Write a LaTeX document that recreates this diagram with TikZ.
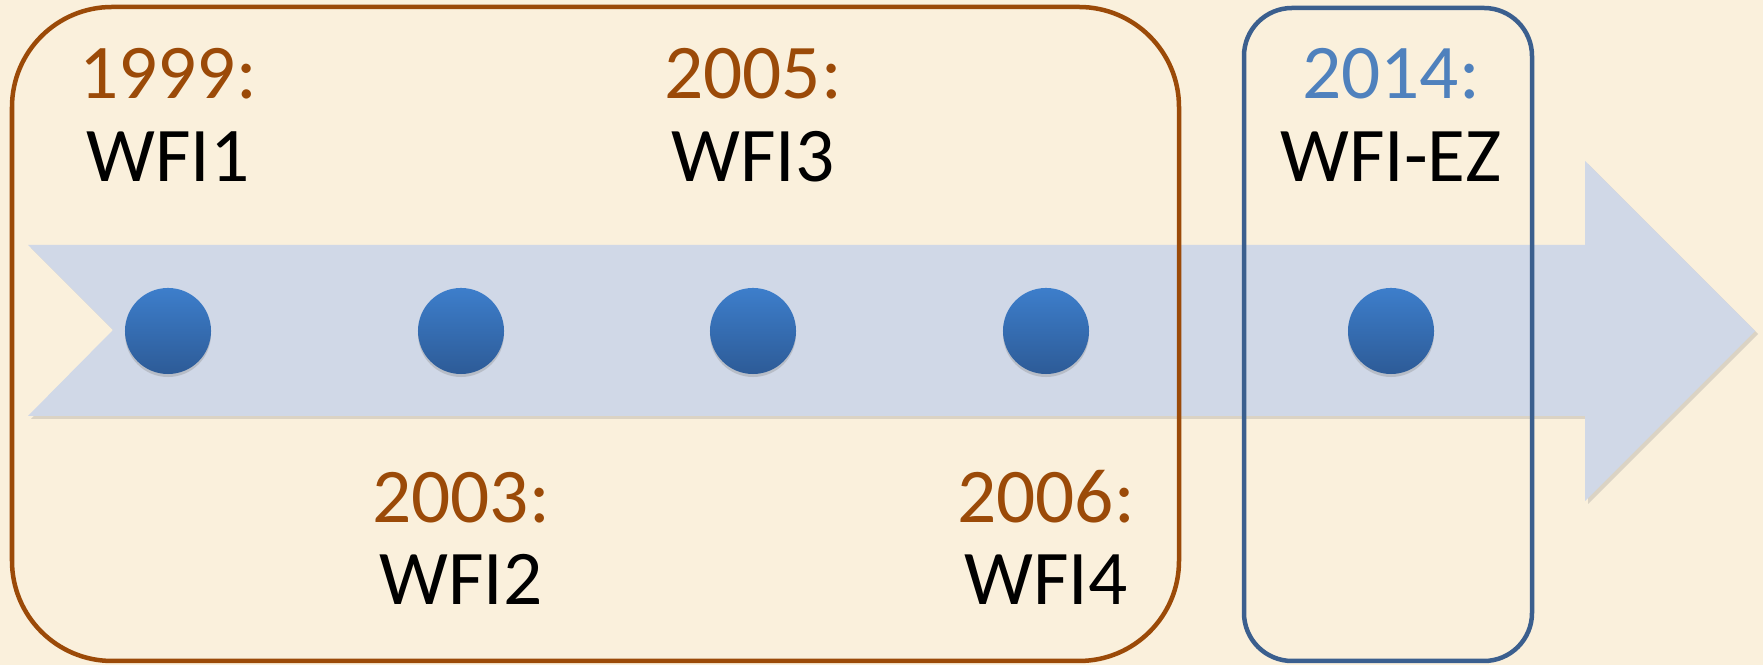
\documentclass[tikz,border=0pt]{standalone}
\usepackage{fontspec}
\setmainfont[Numbers=Lining]{Carlito}
\usetikzlibrary{shadows}
\definecolor{bgcream}{HTML}{FAF0DC}
\definecolor{arrowfill}{HTML}{D0D8E7}
\definecolor{rustline}{HTML}{9B4A08}
\definecolor{navyline}{HTML}{3B5F8E}
\definecolor{skytext}{HTML}{4F81BD}
\definecolor{dottop}{HTML}{3D7ECB}
\definecolor{dotbot}{HTML}{2D5B97}

\tikzset{
  dot/.style={circle, minimum size=0.86cm, inner sep=0pt, top color=dottop, bottom color=dotbot,
    drop shadow={shadow xshift=0cm, shadow yshift=-0.03cm, opacity=0.3}},
  year/.style={anchor=base, font=\fontsize{22}{26}\selectfont},
  ver/.style={anchor=base, font=\fontsize{22}{26}\selectfont, text=black},
  era/.style={line width=0.045cm, rounded corners=#1},
}

\begin{document}
\begin{tikzpicture}[x=0.01cm, y=-0.01cm]
\fill[bgcream] (0,0) rectangle (1763,665);

% timeline arrow
\fill[arrowfill, drop shadow={shadow xshift=0.03cm, shadow yshift=-0.03cm, opacity=0.25}]
  (28,245) -- (1585,245) -- (1585,161) -- (1755,331) -- (1585,501) -- (1585,416)
  -- (28,416) -- (113,330) -- cycle;

% groups
\draw[era=1.0cm, rustline] (12,7) rectangle (1179,661);
\draw[era=0.48cm, navyline] (1244,8) rectangle (1532,661);

\foreach \x/\yr/\nm/\ya/\yb/\col in {168/1999/WFI1/99/182/rustline,
    461/2003/WFI2/523/605/rustline, 753/2005/WFI3/99/182/rustline,
    1046/2006/WFI4/523/605/rustline, 1391/2014/WFI-EZ/99/182/skytext} {
  \node[dot] (dot\yr) at (\x,331) {};
  \node[year, text=\col] (year\yr) at (\x,\ya) {\yr:};
  \node[ver] (ver\yr) at (\x,\yb) {\nm};
}

\end{tikzpicture}
\end{document}
